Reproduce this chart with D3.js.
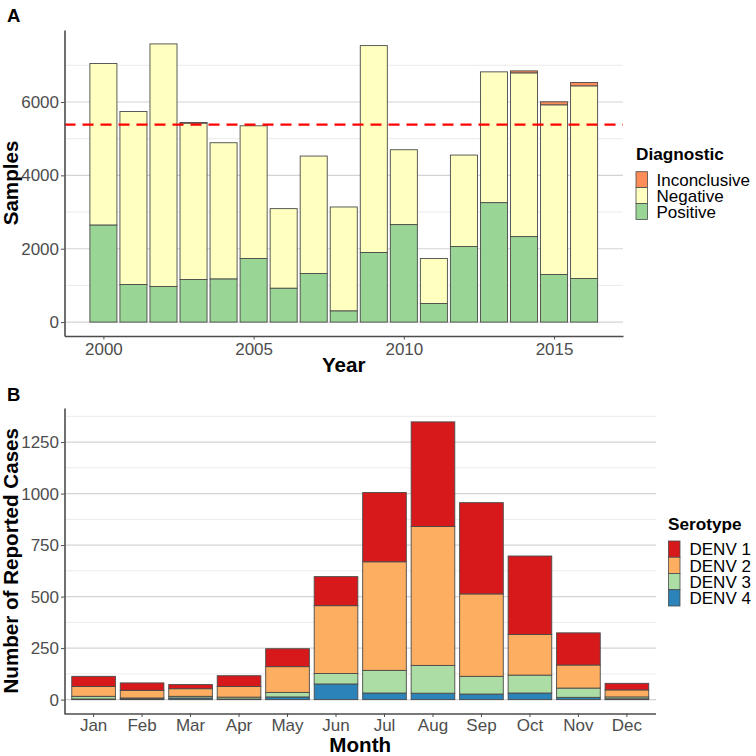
<!DOCTYPE html>
<html><head><meta charset="utf-8">
<script src="https://cdn.jsdelivr.net/npm/d3@7"></script>
<style>body{margin:0;background:#fff}svg{display:block}text{font-family:"Liberation Sans",Arial,sans-serif}</style>
</head><body><svg id="c" width="756" height="756"></svg>
<script>
// ---- Panel A data ----
const years = [2000,2001,2002,2003,2004,2005,2006,2007,2008,2009,2010,2011,2012,2013,2014,2015,2016];
const positive = [2648,1025,971,1161,1179,1733,925,1324,308,1896,2658,508,2059,3257,2331,1297,1188];
const negative = [4400,4716,6612,4263,3710,3618,2168,3202,2830,5641,2040,1225,2494,3564,4463,4626,5252];
const inconclusive = [0,0,0,15,0,0,0,0,0,0,0,0,0,0,54,82,91];
const meanLine = 5385;
const diagKeys = ["Positive","Negative","Inconclusive"];
const diagColors = ["#99d594","#ffffbf","#fc8d59"];
const yTicksA = [0,2000,4000,6000];
const yMinorA = [1000,3000,5000,7000];
const xTicksA = [2000,2005,2010,2015];

// ---- Panel B data ----
const months = ["Jan","Feb","Mar","Apr","May","Jun","Jul","Aug","Sep","Oct","Nov","Dec"];
const denv4 = [3,3,8,3,13,76,32,31,27,32,11,4];
const denv3 = [13,5,8,9,22,51,110,135,86,87,45,9];
const denv2 = [48,37,37,52,125,329,527,674,400,197,112,34];
const denv1 = [49,36,20,52,87,141,336,508,443,381,156,32];
const seroKeys = ["DENV 4","DENV 3","DENV 2","DENV 1"];
const seroColors = ["#2b83ba","#abdda4","#fdae61","#d7191c"];
const yTicksB = [0,250,500,750,1000,1250];
const yMinorB = [125,375,625,875,1125,1375];

const svg = d3.select("#c");
const tickCol = "#4d4d4d", axisCol = "#4d4d4d", barStroke = "#4a4a4a";
const fmt = d3.format("d");
const titleSize = "20.6px";

function drawGrid(g, o) {
  g.selectAll(".gmin").data(o.minor).join("line")
    .attr("x1", o.left).attr("x2", o.right)
    .attr("y1", d => o.y(d)).attr("y2", d => o.y(d))
    .attr("stroke", "#ebebeb").attr("stroke-width", 1);
  g.selectAll(".gmaj").data(o.major).join("line")
    .attr("x1", o.left).attr("x2", o.right)
    .attr("y1", d => o.y(d)).attr("y2", d => o.y(d))
    .attr("stroke", "#d4d4d4").attr("stroke-width", 1.1);
}
function styleAxis(a) {
  a.select(".domain").attr("stroke", axisCol).attr("stroke-width", 1.6);
  a.selectAll(".tick line").attr("stroke", axisCol);
  a.selectAll(".tick text").attr("fill", tickCol).style("font-size", "17px")
    .style("font-family", '"Liberation Sans",Arial,sans-serif');
}

// ================= Panel A =================
(function(){
  const left = 64.5, right = 623, top = 30, bottom = 336;
  const rows = years.map((yr,i)=>({year:yr, Positive:positive[i], Negative:negative[i], Inconclusive:inconclusive[i]}));
  const stack = d3.stack().keys(diagKeys)(rows);
  const maxV = d3.max(rows, r => r.Positive + r.Negative + r.Inconclusive);
  const xlo = d3.min(years) - 0.45, xhi = d3.max(years) + 0.45, xr = xhi - xlo;
  const x = d3.scaleLinear().domain([xlo - 0.05*xr, xhi + 0.05*xr]).range([left, right]);
  const y = d3.scaleLinear().domain([-0.05*maxV, maxV*1.05]).range([bottom, top]);
  const g = svg.append("g");
  drawGrid(g, {left, right, y, major: yTicksA, minor: yMinorA});
  const bw = x(0.9) - x(0);
  stack.forEach((layer, li) => {
    g.append("g").selectAll("rect").data(layer.filter(d => d[1] > d[0])).join("rect")
      .attr("x", d => x(d.data.year) - bw/2).attr("width", bw)
      .attr("y", d => y(d[1])).attr("height", d => y(d[0]) - y(d[1]))
      .attr("fill", diagColors[li]).attr("stroke", barStroke).attr("stroke-width", 0.9);
  });
  g.append("line").attr("x1", left).attr("x2", right)
    .attr("y1", y(meanLine)).attr("y2", y(meanLine))
    .attr("stroke", "#ff0000").attr("stroke-width", 2.3).attr("stroke-dasharray", "11,7");
  const ay = g.append("g").attr("transform", `translate(${left},0)`)
    .call(d3.axisLeft(y).tickValues(yTicksA).tickFormat(fmt).tickSize(3.5).tickSizeOuter(0).tickPadding(2));
  const ax = g.append("g").attr("transform", `translate(0,${bottom})`)
    .call(d3.axisBottom(x).tickValues(xTicksA).tickFormat(fmt).tickSize(3.5).tickSizeOuter(0).tickPadding(3));
  styleAxis(ay); styleAxis(ax);
  g.append("text").attr("x", (left+right)/2).attr("y", 372).attr("text-anchor", "middle")
    .style("font-size", titleSize).style("font-weight", "bold").text("Year");
  g.append("text").attr("transform", `translate(18,${(top+bottom)/2}) rotate(-90)`).attr("text-anchor", "middle")
    .style("font-size", titleSize).style("font-weight", "bold").text("Samples");
  g.append("text").attr("x", 7).attr("y", 22).style("font-size", "18.5px").style("font-weight", "bold").text("A");
  const lg = g.append("g");
  lg.append("text").attr("x", 636).attr("y", 160).style("font-size", "17.2px").style("font-weight", "bold").text("Diagnostic");
  ["Inconclusive","Negative","Positive"].forEach((k, i) => {
    const yy = 171.7 + i*15.9;
    lg.append("rect").attr("x", 636).attr("y", yy).attr("width", 11.5).attr("height", 15.9)
      .attr("fill", diagColors[diagKeys.indexOf(k)]).attr("stroke", barStroke).attr("stroke-width", 0.8);
    lg.append("text").attr("x", 656.5).attr("y", yy + 14).style("font-size", "17px").text(k);
  });
})();

// ================= Panel B =================
(function(){
  const left = 64.5, right = 656, top = 408, bottom = 713.5;
  const rows = months.map((m,i)=>({month:m, "DENV 4":denv4[i], "DENV 3":denv3[i], "DENV 2":denv2[i], "DENV 1":denv1[i]}));
  const stack = d3.stack().keys(seroKeys)(rows);
  const maxV = d3.max(rows, r => seroKeys.reduce((s,k)=>s+r[k],0));
  const x = d3.scaleBand().domain(months).range([left, right]).paddingInner(0.1).paddingOuter(0.15);
  const y = d3.scaleLinear().domain([-0.05*maxV, maxV*1.05]).range([bottom, top]);
  const g = svg.append("g");
  drawGrid(g, {left, right, y, major: yTicksB, minor: yMinorB});
  stack.forEach((layer, li) => {
    g.append("g").selectAll("rect").data(layer).join("rect")
      .attr("x", d => x(d.data.month)).attr("width", x.bandwidth())
      .attr("y", d => y(d[1])).attr("height", d => y(d[0]) - y(d[1]))
      .attr("fill", seroColors[li]).attr("stroke", barStroke).attr("stroke-width", 0.9);
  });
  const ay = g.append("g").attr("transform", `translate(${left},0)`)
    .call(d3.axisLeft(y).tickValues(yTicksB).tickFormat(fmt).tickSize(3.5).tickSizeOuter(0).tickPadding(2));
  const ax = g.append("g").attr("transform", `translate(0,${bottom})`)
    .call(d3.axisBottom(x).tickSize(3.5).tickSizeOuter(0).tickPadding(2));
  ax.select(".domain").attr("d", `M${left},0.5H${right}`);
  styleAxis(ay); styleAxis(ax);
  g.append("text").attr("x", (left+right)/2).attr("y", 752).attr("text-anchor", "middle")
    .style("font-size", titleSize).style("font-weight", "bold").text("Month");
  g.append("text").attr("transform", `translate(18,${(top+bottom)/2}) rotate(-90)`).attr("text-anchor", "middle")
    .style("font-size", titleSize).style("font-weight", "bold").text("Number of Reported Cases");
  g.append("text").attr("x", 7).attr("y", 401).style("font-size", "18.5px").style("font-weight", "bold").text("B");
  const lg = g.append("g");
  lg.append("text").attr("x", 668).attr("y", 530).style("font-size", "17.2px").style("font-weight", "bold").text("Serotype");
  ["DENV 1","DENV 2","DENV 3","DENV 4"].forEach((k, i) => {
    const yy = 541 + i*16.25;
    lg.append("rect").attr("x", 668.5).attr("y", yy).attr("width", 11.5).attr("height", 16.25)
      .attr("fill", seroColors[seroKeys.indexOf(k)]).attr("stroke", barStroke).attr("stroke-width", 0.8);
    lg.append("text").attr("x", 689.5).attr("y", yy + 14.3).style("font-size", "17px").text(k);
  });
})();
</script></body></html>
